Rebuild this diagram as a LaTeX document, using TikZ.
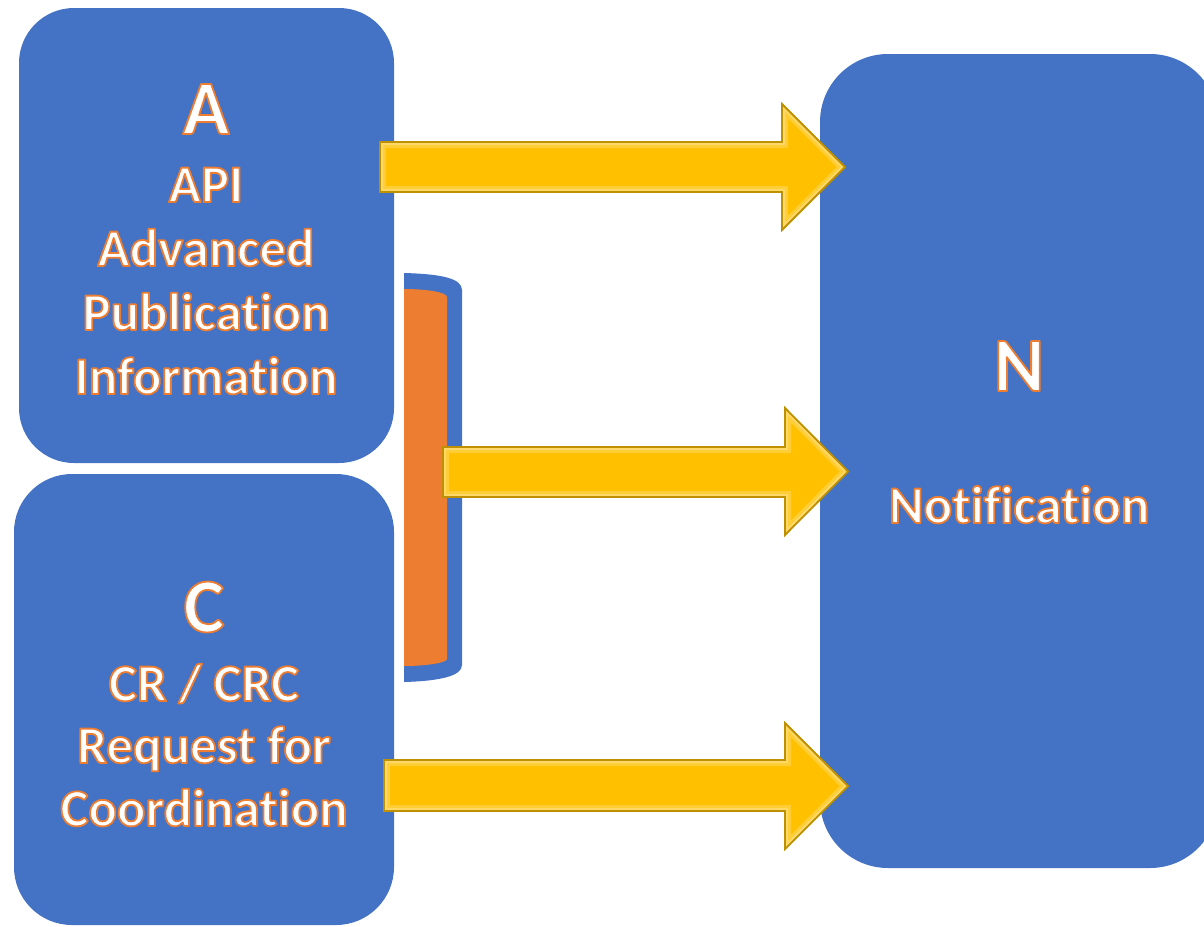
\documentclass[tikz,border=0pt]{standalone}
\usepackage{fontspec}
\setmainfont{Carlito}[BoldFont={Carlito Bold},Ligatures=CommonOff]
\definecolor{boxblue}{HTML}{4472C4}
\definecolor{brorange}{HTML}{ED7D31}
\definecolor{arryellow}{HTML}{FFC000}
\definecolor{arredge}{HTML}{BF9000}
\definecolor{arrglow}{HTML}{FFE699}
\newcommand\ol[1]{\special{pdf:literal direct 2 Tr 1.8 w 1 j 0.929 0.490 0.192 RG}#1\special{pdf:literal direct 0 Tr}}
% block arrow outline: left x, top y, bottom y, head x, head top, head bottom, tip x, tip y
\newcommand\arrp[8]{(#1,#2) -- (#4,#2) -- (#4,#5) -- (#7,#8) -- (#4,#6) -- (#4,#3) -- (#1,#3) -- cycle}
\newcommand\blockarr[8]{%
  \begin{scope}
    \clip \arrp{#1}{#2}{#3}{#4}{#5}{#6}{#7}{#8};
    \draw[arrglow,line width=12pt,opacity=0.35] \arrp{#1}{#2}{#3}{#4}{#5}{#6}{#7}{#8};
    \draw[arrglow,line width=6pt,opacity=0.5] \arrp{#1}{#2}{#3}{#4}{#5}{#6}{#7}{#8};
  \end{scope}
  \draw[blockarrow,fill=none] \arrp{#1}{#2}{#3}{#4}{#5}{#6}{#7}{#8};}
\begin{document}
\begin{tikzpicture}[x=1pt,y=-1pt,
  bluebox/.style={fill=boxblue,draw=none,rounded corners=#1,inner sep=0pt},
  bigletter/.style={text=white,font=\bfseries\fontsize{77}{80}\selectfont,anchor=base,inner sep=0pt},
  label/.style={text=white,font=\bfseries\fontsize{53}{64}\selectfont,anchor=base,inner sep=0pt},
  blockarrow/.style={draw=arredge,line width=1.8pt,line join=miter}]
\useasboundingbox (0,0) rectangle (1204,926);
% boxes
\node[bluebox=55pt,minimum width=375pt,minimum height=455pt] (A) at (206.5,235.5) {};
\node[bluebox=58pt,minimum width=380pt,minimum height=451pt] (C) at (204,699.5) {};
\node[bluebox=68pt,minimum width=398pt,minimum height=814pt] (N) at (1019,461) {};
% bracket
\fill[boxblue] (404,273) .. controls (440,274) and (462,278) .. (462,290)
  -- (462,665) .. controls (462,676) and (440,681) .. (404,682) -- cycle;
\fill[brorange] (404,289) .. controls (425,289) and (447,292) .. (447,297)
  -- (447,659) .. controls (447,663) and (425,666) .. (404,666) -- cycle;
% texts
\node[bigletter] (tA) at (206,134) {\ol{A}};
\node[label] (tA1) at (206,202) {\ol{API}};
\node[label] (tA2) at (206,266) {\ol{Advanced}};
\node[label] (tA3) at (206,330) {\ol{Publication}};
\node[label] (tA4) at (206,394) {\ol{Information}};
\node[bigletter] (tC) at (204,632) {\ol{C}};
\node[label] (tC1) at (204,701) {\ol{CR / CRC}};
\node[label] (tC2) at (204,763) {\ol{Request for}};
\node[label] (tC3) at (204,826) {\ol{Coordination}};
\node[bigletter] (tN) at (1019,391) {\ol{N}};
\node[label] (tN1) at (1019,523) {\ol{Notification}};
% arrows
\fill[arryellow] \arrp{380}{142}{192}{782}{104}{230}{845}{167};
\blockarr{380}{142}{192}{782}{104}{230}{845}{167}
\fill[arryellow] \arrp{443}{447}{497}{785}{408}{535}{848}{471.5};
\blockarr{443}{447}{497}{785}{408}{535}{848}{471.5}
\fill[arryellow] \arrp{384}{760}{811}{785}{723}{849}{848}{786};
\blockarr{384}{760}{811}{785}{723}{849}{848}{786}
\end{tikzpicture}
\end{document}
